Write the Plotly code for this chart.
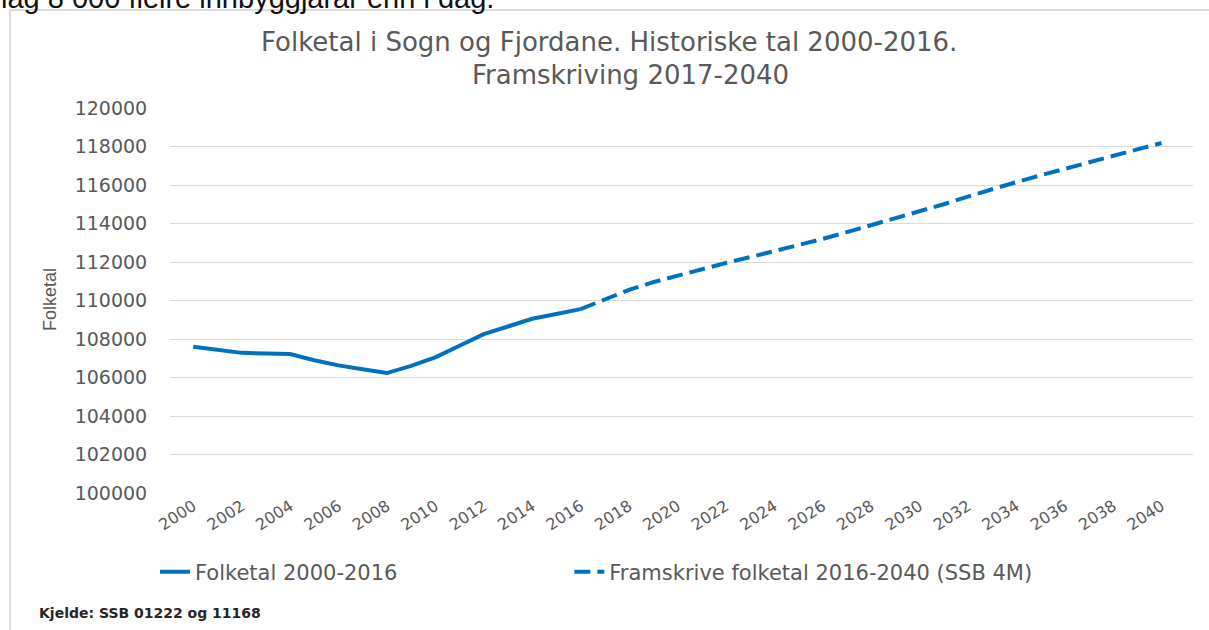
import plotly.graph_objects as go

# ---- data ----
hist_years = list(range(2000, 2017))
hist_values = [107600, 107450, 107280, 107250, 107220, 106900, 106630, 106430, 106230,
               106600, 107050, 107650, 108250, 108650, 109050, 109300, 109550]

proj_years = list(range(2016, 2041))
proj_values = [109550, 110050, 110550, 110950, 111300, 111650, 111950, 112250, 112550,
               112900, 113200, 113550, 113900, 114300, 114650, 115000, 115400, 115800,
               116150, 116500, 116850, 117200, 117550, 117850, 118180]

x_ticks = list(range(2000, 2041, 2))
y_ticks = list(range(100000, 120001, 2000))

hist_name = "Folketal 2000-2016"
proj_name = "Framskrive folketal 2016-2040 (SSB 4M)"
title_line1 = "Folketal i Sogn og Fjordane. Historiske tal 2000-2016."
title_line2 = "Framskriving 2017-2040"
y_title = "Folketal"
source_text = "Kjelde: SSB 01222 og 11168"
top_text = "lag 8 000 fleire innbyggjarar enn i dag."

BLUE = "#0070C0"
GREY = "#595959"

# plot area geometry (px)
L, R, T, B = 170, 16, 108, 137
W, H = 1209, 630
PW = W - L - R
PH = H - T - B


def px_x(px):
    return (px - L) / PW


def px_y(py):
    return (H - B - py) / PH


fig = go.Figure()
fig.add_trace(go.Scatter(x=hist_years, y=hist_values, mode="lines",
                         name=hist_name + "\u00a0" * 25,
                         line=dict(color=BLUE, width=4)))
fig.add_trace(go.Scatter(x=proj_years, y=proj_values, mode="lines", name=proj_name,
                         line=dict(color=BLUE, width=4, dash="16px,7px")))

fig.update_layout(
    width=W, height=H,
    margin=dict(l=L, r=R, t=T, b=B),
    paper_bgcolor="white", plot_bgcolor="white",
    font=dict(family="DejaVu Sans", color=GREY),
    showlegend=True,
    legend=dict(orientation="h", x=px_x(155), xanchor="left", y=px_y(572), yanchor="middle",
                font=dict(family="DejaVu Sans", size=21, color=GREY),
                bgcolor="rgba(0,0,0,0)"),
)

fig.update_xaxes(range=[1999.04, 2041.3], tickmode="array", tickvals=x_ticks,
                 ticktext=[str(v) for v in x_ticks], tickangle=-33,
                 showgrid=False, zeroline=False, showline=False, ticks="",
                 tickfont=dict(family="DejaVu Sans", size=16, color=GREY))
fig.update_yaxes(range=[100000, 120000], tickmode="array", tickvals=y_ticks,
                 ticktext=[str(v) for v in y_ticks],
                 showgrid=True, gridcolor="#D9D9D9", gridwidth=1, zeroline=False,
                 showline=False, ticks="outside", ticklen=18, tickcolor="rgba(0,0,0,0)",
                 tickfont=dict(family="DejaVu Sans", size=19, color=GREY))

# chart border
fig.add_shape(type="rect", xref="paper", yref="paper",
              x0=px_x(10), x1=px_x(1230), y0=px_y(660), y1=px_y(10),
              line=dict(color="#D0D0D0", width=1.5), fillcolor="rgba(0,0,0,0)", layer="below")

# title (two lines)
fig.add_annotation(text=title_line1, xref="paper", yref="paper", x=px_x(609), y=px_y(42),
                   showarrow=False, xanchor="center", yanchor="middle",
                   font=dict(family="DejaVu Sans", size=26, color=GREY))
fig.add_annotation(text=title_line2, xref="paper", yref="paper", x=px_x(630), y=px_y(75),
                   showarrow=False, xanchor="center", yanchor="middle",
                   font=dict(family="DejaVu Sans", size=26, color=GREY))

fig.add_annotation(text=y_title, xref="paper", yref="paper", x=px_x(50), y=px_y(300),
                   textangle=-90, showarrow=False, xanchor="center", yanchor="middle",
                   font=dict(family="Liberation Sans", size=18, color=GREY))
fig.add_annotation(text="<b>" + source_text + "</b>", xref="paper", yref="paper",
                   x=px_x(37), y=px_y(613), showarrow=False, xanchor="left", yanchor="middle",
                   font=dict(family="DejaVu Sans", size=14, color="#262626"))
fig.add_annotation(text=top_text, xref="paper", yref="paper",
                   x=px_x(-1), y=px_y(-2), showarrow=False, xanchor="left", yanchor="middle",
                   font=dict(family="Liberation Sans", size=29, color="#111111"))

fig.write_html("out.html", config={"displayModeBar": False},
               post_script="document.body.style.margin='0';")
